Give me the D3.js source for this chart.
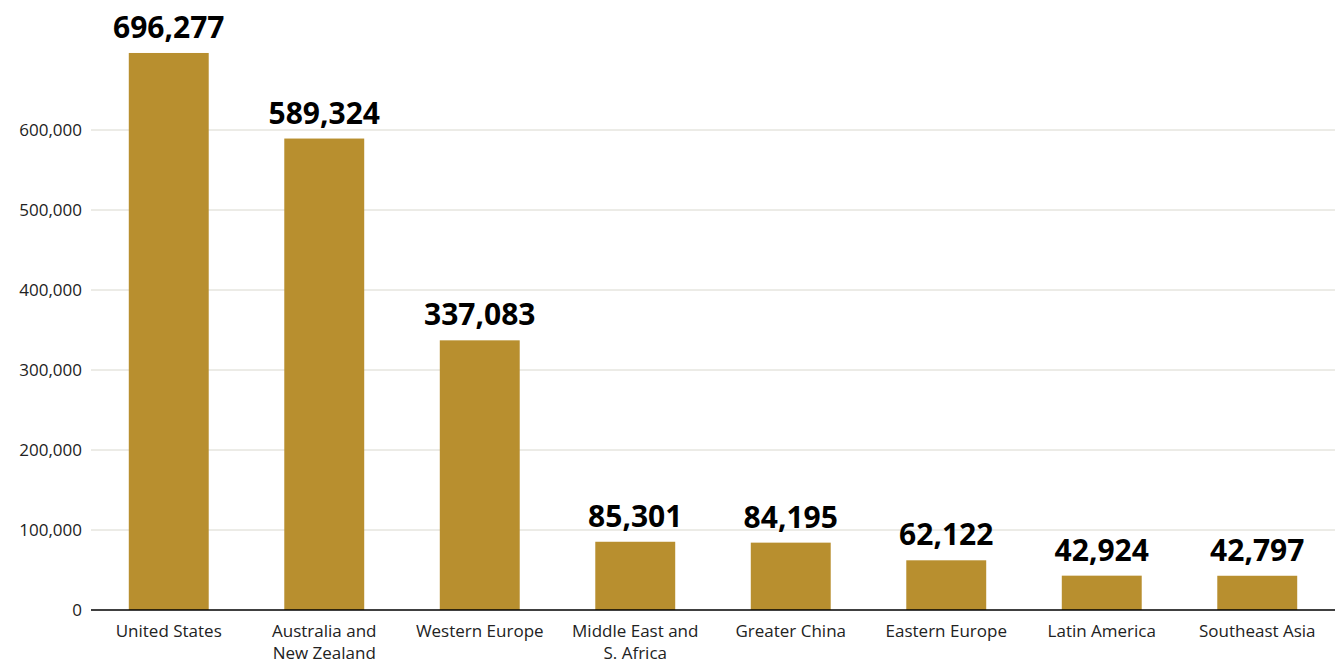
<!DOCTYPE html>
<html>
<head>
<meta charset="utf-8">
<script src="https://cdn.jsdelivr.net/npm/d3@7"></script>
<style>
  body { margin: 0; background: #fff; }
  svg { font-family: "Open Sans", "Noto Sans", sans-serif; }
</style>
</head>
<body>
<div id="chart"></div>
<script>
// data
var regions = ["United States", "Australia and\nNew Zealand", "Western Europe", "Middle East and\nS. Africa",
               "Greater China", "Eastern Europe", "Latin America", "Southeast Asia"];
var counts = [696277, 589324, 337083, 85301, 84195, 62122, 42924, 42797];
var yTicks = [0, 100000, 200000, 300000, 400000, 500000, 600000];

var width = 1340, height = 663;
var margin = {top: 50, right: 5, bottom: 53, left: 91};
var innerW = width - margin.left - margin.right;
var innerH = height - margin.top - margin.bottom;

var svg = d3.select("#chart").append("svg")
    .attr("width", width)
    .attr("height", height)
  .append("g")
    .attr("transform", "translate(" + margin.left + "," + margin.top + ")");

var x = d3.scaleBand().domain(regions).range([0, innerW]).paddingInner(0.486).paddingOuter(0.243);
var y = d3.scaleLinear().domain([0, 700000]).range([innerH, innerH - 560]);

// gridlines
svg.selectAll(".grid")
    .data(yTicks.slice(1))
  .enter().append("line")
    .attr("x1", 0).attr("x2", innerW)
    .attr("y1", function(d) { return y(d); })
    .attr("y2", function(d) { return y(d); })
    .attr("stroke", "#d9d8ce")
    .attr("stroke-width", 1);

// y axis labels
var yAxis = svg.append("g")
    .call(d3.axisLeft(y).tickValues(yTicks).tickFormat(d3.format(",")).tickSize(0).tickPadding(9));
yAxis.select(".domain").remove();
yAxis.selectAll("text").attr("font-size", 17).attr("fill", "#222").attr("font-family", "Open Sans, Noto Sans, sans-serif");

// bars
svg.selectAll(".bar")
    .data(counts)
  .enter().append("rect")
    .attr("class", "bar")
    .attr("x", function(d, i) { return x(regions[i]); })
    .attr("width", x.bandwidth())
    .attr("y", function(d) { return y(d); })
    .attr("height", function(d) { return innerH - y(d); })
    .attr("fill", "#b88f2f");

// value labels
svg.selectAll(".val")
    .data(counts)
  .enter().append("text")
    .attr("x", function(d, i) { return x(regions[i]) + x.bandwidth() / 2; })
    .attr("y", function(d) { return y(d) - 15; })
    .attr("text-anchor", "middle")
    .attr("font-size", 30)
    .attr("font-weight", "bold")
    .attr("fill", "#000")
    .text(function(d) { return d3.format(",")(d); });

// baseline
svg.append("line")
    .attr("x1", 0).attr("x2", innerW)
    .attr("y1", innerH).attr("y2", innerH)
    .attr("stroke", "#000").attr("stroke-width", 1.5);

// category labels, may wrap on two lines
var cat = svg.selectAll(".cat")
    .data(regions)
  .enter().append("text")
    .attr("x", function(d) { return x(d) + x.bandwidth() / 2; })
    .attr("y", innerH + 27)
    .attr("text-anchor", "middle")
    .attr("font-size", 17)
    .attr("fill", "#222");
cat.each(function(d) {
    var lines = d.split("\n");
    var t = d3.select(this);
    lines.forEach(function(l, j) {
        t.append("tspan")
            .attr("x", t.attr("x"))
            .attr("dy", j === 0 ? 0 : 22)
            .text(l);
    });
});
</script>
</body>
</html>
